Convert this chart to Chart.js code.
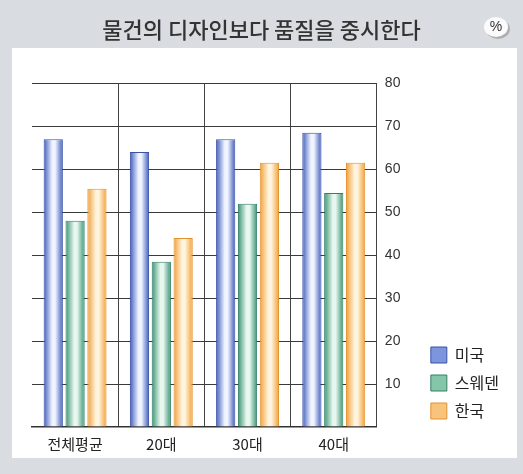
<!DOCTYPE html>
<html>
<head>
<meta charset="utf-8">
<script src="https://cdn.jsdelivr.net/npm/chart.js@4/dist/chart.umd.min.js"></script>
<style>
  html, body { margin: 0; padding: 0; background: #d9dde2; }
  #wrap { width: 523px; height: 474px; position: relative; }
</style>
</head>
<body>
<div id="wrap"><canvas id="myChart" width="523" height="474"></canvas></div>
<script>
/* ---------------- données ---------------- */
const labels = ['전체평균', '20대', '30대', '40대'];
const usa = [67, 64, 67, 68.5];
const sweden = [48, 38.5, 52, 54.5];
const korea = [55.5, 44, 61.5, 61.5];
const yTicks = [10, 20, 30, 40, 50, 60, 70, 80];

const CAT_PCT = 0.76;
const BAR_PCT = 0.88;

// couleurs : bord foncé, centre clair
const palette = [
    { edge: '#3f5cbc', mid: '#7d95dc', light: '#f0f4fe', border: '#3a52a6' },
    { edge: '#389470', mid: '#86c6a8', light: '#e8f7ef', border: '#33806a' },
    { edge: '#f29f36', mid: '#f8c47c', light: '#fff4de', border: '#e3922e' },
];

function cylinder(ctx){
    const p = palette[ctx.datasetIndex];
    const chart = ctx.chart;
    const xs = chart.scales.x;
    if (ctx.dataIndex === undefined || !xs || !chart.chartArea) return p.mid;
    const n = chart.data.datasets.length;
    const catW = xs.width / chart.data.labels.length;
    const groupW = catW * CAT_PCT;
    const barW = groupW / n * BAR_PCT;
    const cx = xs.getPixelForValue(ctx.dataIndex) - groupW / 2 + (ctx.datasetIndex + 0.5) * groupW / n;
    const g = chart.ctx.createLinearGradient(cx - barW / 2, 0, cx + barW / 2, 0);
    g.addColorStop(0, p.edge);
    g.addColorStop(0.45, p.light);
    g.addColorStop(0.6, p.light);
    g.addColorStop(1, p.edge);
    return g;
}

const background = {
    id: 'background',
    afterLayout(chart){
        // titre centré sur toute la page
        chart.titleBlock.left = 0;
        chart.titleBlock.right = chart.width;
        chart.legend.top += 4;
        chart.legend.bottom += 4;
    },
    beforeDraw(chart){
        const c = chart.ctx;
        c.save();
        c.fillStyle = '#d9dde2';
        c.fillRect(0, 0, chart.width, chart.height);
        c.fillStyle = '#ffffff';
        c.fillRect(12, 48, 505, 410);
        // badge %
        c.fillStyle = 'rgba(120,120,120,0.45)';
        c.beginPath(); c.ellipse(498, 29, 12, 10, 0, 0, Math.PI * 2); c.fill();
        c.fillStyle = '#fbfbfb';
        c.beginPath(); c.ellipse(496, 27, 12, 10, 0, 0, Math.PI * 2); c.fill();
        c.fillStyle = '#333';
        c.font = '14px "Liberation Sans", sans-serif';
        c.textAlign = 'center'; c.textBaseline = 'middle';
        c.fillText('%', 496, 27);
        c.restore();
    }
};

const data = {
    labels: labels,
    datasets: [
        { label: '미국', data: usa },
        { label: '스웨덴', data: sweden },
        { label: '한국', data: korea },
    ].map((d, i) => ({
        ...d,
        backgroundColor: cylinder,
        borderColor: palette[i].border,
        borderWidth: 1,
        borderSkipped: 'bottom',
        categoryPercentage: CAT_PCT,
        barPercentage: BAR_PCT,
    }))
};

const config = {
    type: 'bar',
    data: data,
    plugins: [background],
    options: {
        responsive: false,
        animation: false,
        layout: { padding: { left: 32, right: 14, top: 0, bottom: 13 } },
        plugins: {
            title: {
                display: true,
                text: '물건의 디자인보다 품질을 중시한다',
                color: '#333',
                font: { family: '"Noto Sans CJK KR", sans-serif', size: 22, weight: '500' },
                padding: { top: 16, bottom: 41 },
            },
            legend: {
                position: 'right',
                align: 'end',
                fullSize: false,
                labels: {
                    boxWidth: 16,
                    boxHeight: 16,
                    padding: 12,
                    color: '#222',
                    font: { family: '"Noto Sans CJK KR", sans-serif', size: 16 },
                    generateLabels(chart){
                        return chart.data.datasets.map((ds, i) => ({
                            text: ds.label,
                            fillStyle: palette[i].mid,
                            strokeStyle: palette[i].border,
                            lineWidth: 1,
                            fontColor: '#222',
                            datasetIndex: i,
                        }));
                    }
                }
            },
            tooltip: { enabled: false }
        },
        scales: {
            x: {
                grid: {
                    offset: true,
                    drawTicks: false,
                    color: ctx => (ctx.index === 0 || ctx.index === labels.length) ? 'rgba(0,0,0,0)' : '#444',
                    lineWidth: 1,
                },
                border: { display: true, color: '#333', width: 1.5 },
                ticks: {
                    padding: 8,
                    color: '#222',
                    font: { family: '"Noto Sans CJK KR", sans-serif', size: 15 },
                }
            },
            y: {
                position: 'right',
                min: 0,
                max: 80,
                afterBuildTicks(scale){
                    scale.ticks = [0].concat(yTicks).map(v => ({ value: v }));
                },
                afterFit(scale){ scale.width = 42; },
                grid: {
                    drawTicks: false,
                    color: ctx => ctx.tick && ctx.tick.value === 0 ? 'rgba(0,0,0,0)' : '#3a3a3a',
                    lineWidth: 1,
                },
                border: { display: false },
                ticks: {
                    padding: 8,
                    color: '#333',
                    font: { family: '"Liberation Sans", sans-serif', size: 14 },
                    callback: v => v === 0 ? '' : v,
                }
            }
        }
    }
};

const myChart = new Chart(document.getElementById('myChart'), config);
</script>
</body>
</html>
